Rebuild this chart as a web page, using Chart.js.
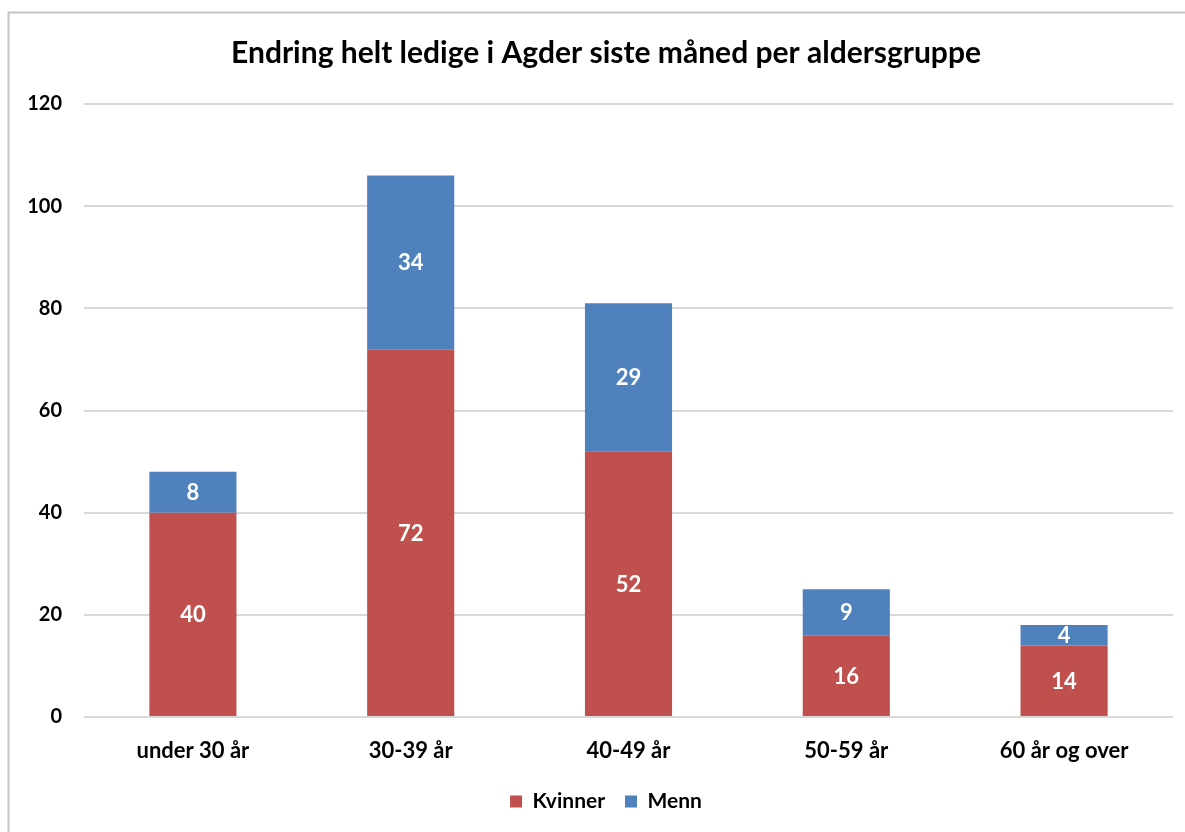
<!DOCTYPE html>
<html>
<head>
<meta charset="utf-8">
<script src="https://cdn.jsdelivr.net/npm/chart.js@4/dist/chart.umd.min.js"></script>
<style>
html,body{margin:0;padding:0;background:#fff;}
#wrap{position:absolute;left:0;top:0;width:1185px;height:832px;}
</style>
</head>
<body>
<div id="wrap"><canvas id="c" width="1185" height="832"></canvas></div>
<script>
const categories = ["under 30 år", "30-39 år", "40-49 år", "50-59 år", "60 år og over"];
const kvinner = [40, 72, 52, 16, 14];
const menn = [8, 34, 29, 9, 4];
const seriesNames = ["Kvinner", "Menn"];
const titleText = "Endring helt ledige i Agder siste måned per aldersgruppe";
const yTicks = [0, 20, 40, 60, 80, 100, 120];

const FONT = "Lato, 'Open Sans', sans-serif";

const borderPlugin = {
  id: 'frame',
  beforeDraw(chart) {
    const ctx = chart.ctx;
    ctx.save();
    ctx.fillStyle = '#fff';
    ctx.fillRect(0, 0, chart.width, chart.height);
    ctx.strokeStyle = '#C4C4C4';
    ctx.lineWidth = 2;
    ctx.beginPath();
    ctx.moveTo(8.5, chart.height + 5);
    ctx.lineTo(8.5, 12.5);
    ctx.lineTo(chart.width + 5, 12.5);
    ctx.stroke();
    ctx.restore();
  }
};

const labelPlugin = {
  id: 'segLabels',
  afterDatasetsDraw(chart) {
    const ctx = chart.ctx;
    ctx.save();
    ctx.fillStyle = '#fff';
    ctx.font = "bold 22px " + FONT;
    ctx.textAlign = 'center';
    ctx.textBaseline = 'middle';
    chart.data.datasets.forEach((ds, di) => {
      const meta = chart.getDatasetMeta(di);
      meta.data.forEach((el, i) => {
        const v = ds.data[i];
        const yc = (el.y + el.base) / 2;
        ctx.fillText(String(v), el.x, yc + 1);
      });
    });
    ctx.restore();
  }
};

new Chart(document.getElementById('c'), {
  type: 'bar',
  data: {
    labels: categories,
    datasets: [
      { label: seriesNames[0], data: kvinner, backgroundColor: '#C0504D', borderWidth: 0, yAxisID: 'y' },
      { label: seriesNames[1], data: menn, backgroundColor: '#4F81BD', borderWidth: 0, yAxisID: 'y' }
    ]
  },
  options: {
    responsive: false,
    animation: false,
    devicePixelRatio: 1,
    layout: { padding: { left: 0, right: -27, top: 35, bottom: 10 } },
    datasets: { bar: { categoryPercentage: 1.0, barPercentage: 0.4 } },
    plugins: {
      title: {
        display: true,
        text: titleText,
        color: '#000',
        font: { family: FONT, size: 30, weight: 'bold' },
        padding: { top: 0, bottom: 33 }
      },
      legend: {
        display: true,
        position: 'bottom',
        labels: {
          color: '#000',
          font: { family: FONT, size: 21, weight: 'bold' },
          boxWidth: 12,
          boxHeight: 12,
          padding: 20
        }
      },
      tooltip: { enabled: false }
    },
    scales: {
      x: {
        stacked: true,
        afterFit(scale) { scale.height = 54; },
        grid: { display: false, drawTicks: false },
        border: { display: false },
        ticks: { color: '#000', font: { family: FONT, size: 22, weight: 'bold' }, padding: 21 }
      },
      y: {
        stacked: true,
        min: 0,
        max: 120,
        afterFit(scale) { scale.width = 84; },
        afterBuildTicks(scale) { scale.ticks = yTicks.map(v => ({ value: v })); },
        grid: { color: '#D9D9D9', lineWidth: 2, drawTicks: false },
        border: { display: false },
        ticks: { color: '#000', font: { family: FONT, size: 20, weight: 'bold' }, padding: 22 }
      },
      yr: {
        position: 'right',
        display: true,
        min: 0,
        max: 1,
        afterFit(scale) { scale.width = 39; },
        grid: { display: false, drawTicks: false },
        border: { display: false },
        ticks: { display: false }
      }
    }
  },
  plugins: [borderPlugin, labelPlugin]
});
</script>
</body>
</html>
